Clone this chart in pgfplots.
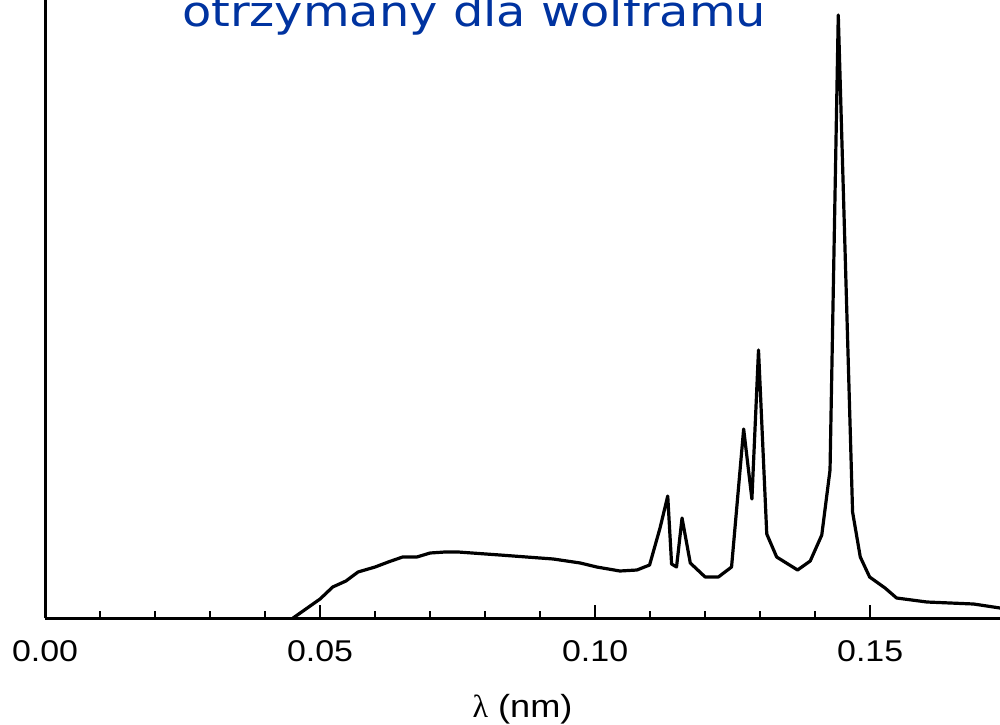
\documentclass[border=0pt]{standalone}
\usepackage{fontspec}
\setmainfont{Liberation Sans}[FakeStretch=1.13]
\newfontfamily\titlefont{DejaVu Sans}[FakeStretch=1.14]
\newfontfamily\greekfont{Liberation Serif}
\usepackage{pgfplots}
\pgfplotsset{compat=1.18}
\definecolor{titleblue}{RGB}{0,51,160}
\begin{document}
\begin{tikzpicture}
\begin{axis}[
  at={(0,0)}, anchor=south west,
  scale only axis, width=477.5pt, height=325pt,
  xmin=0, xmax=0.1736, ymin=0, ymax=650,
  axis x line=bottom, axis y line=left,
  axis line style={-, line width=1.5pt},
  ytick=\empty,
  xtick={0,0.05,0.10,0.15},
  minor x tick num=4,
  tick align=inside,
  major tick length=6.5pt, minor tick length=3.5pt,
  every tick/.style={black, line width=1pt},
  scaled x ticks=false,
  xticklabel style={anchor=base, yshift=-21.5pt, font=\fontsize{15}{18}\selectfont,
    /pgf/number format/fixed, /pgf/number format/fixed zerofill,
    /pgf/number format/precision=2, /pgf/number format/assume math mode=true},
  xlabel={{\greekfont λ} (nm)},
  xlabel style={at={(axis description cs:0.5,0)}, anchor=base, yshift=-49.5pt, font=\fontsize{16}{19}\selectfont},
]
\addplot[black, line width=1.6pt, line join=round, mark=none] coordinates {
(0.0451,0) (0.0500,19) (0.0523,31) (0.0547,37) (0.0569,46) (0.0600,51)
(0.0624,56) (0.0650,61) (0.0676,61) (0.0700,65) (0.0727,66) (0.0751,66)
(0.0827,63) (0.0924,59) (0.0973,55) (0.1003,51) (0.1045,47) (0.1076,48)
(0.1099,53) (0.1118,90) (0.1132,122) (0.1139,54) (0.1148,51) (0.1158,100)
(0.1173,55) (0.1200,41) (0.1224,41) (0.1248,51) (0.1270,189) (0.1285,119)
(0.1297,268) (0.1312,84) (0.1330,61) (0.1368,48) (0.1391,57) (0.1412,83)
(0.1427,148) (0.1442,603) (0.1468,106) (0.1482,61) (0.1499,41) (0.1527,30)
(0.1548,20) (0.1603,16) (0.1688,14) (0.1736,10)
};
\end{axis}
\node[anchor=base, text=titleblue, font=\titlefont\fontsize{21}{25}\selectfont] at (214.5pt,295.5pt) {otrzymany dla wolframu};
\pgfresetboundingbox
\path[use as bounding box] (-22.5pt,-53pt) rectangle (477.5pt,309pt);
\end{tikzpicture}
\end{document}
